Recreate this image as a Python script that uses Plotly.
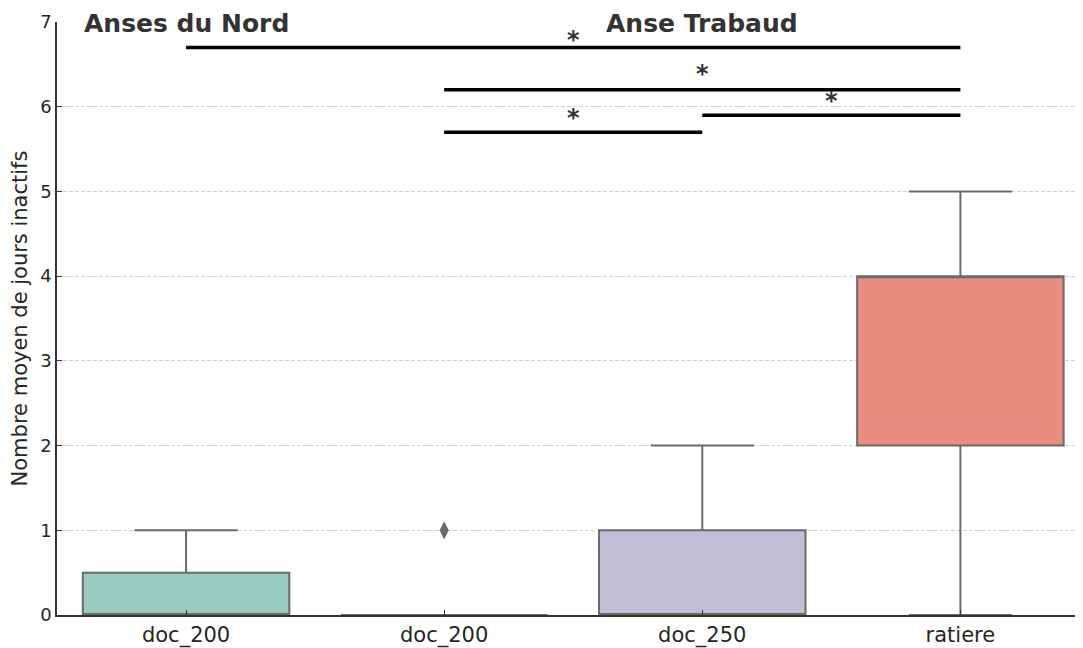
import plotly.graph_objects as go

# ---- data ----
positions = [0, 1, 2, 3]
tick_labels = ["doc_200", "doc_200", "doc_250", "ratiere"]
q1 = [0, 0, 0, 2]
median = [0, 0, 0, 4]
q3 = [0.5, 0, 1, 4]
lower_fence = [0, 0, 0, 0]
upper_fence = [1, 0, 2, 5]
box_colors = ["#99cbc1", "#f2f0b8", "#c1bed6", "#e98d81"]

outlier_x = [1]
outlier_y = [1]

sig_x0 = [0, 1, 2, 1]
sig_x1 = [3, 3, 3, 2]
sig_y = [6.7, 6.2, 5.9, 5.7]
star_x = [1.5, 2.0, 2.5, 1.5]
star_y = [6.85, 6.45, 6.13, 5.93]
star_text = ["*", "*", "*", "*"]

group_titles = ["Anses du Nord", "Anse Trabaud"]
group_x = [0, 2]
group_y = [7, 7]

y_title = "Nombre moyen de jours inactifs"

# ---- figure ----
fig = go.Figure()
edge = "#6a6a6a"
for i in range(len(positions)):
    fig.add_trace(go.Box(
        x=[positions[i]], q1=[q1[i]], median=[median[i]], q3=[q3[i]],
        lowerfence=[lower_fence[i]], upperfence=[upper_fence[i]],
        width=0.8, whiskerwidth=0.5, fillcolor=box_colors[i],
        line=dict(color=edge, width=2), boxpoints=False, showlegend=False,
        hoverinfo="skip",
    ))

fig.add_trace(go.Scatter(
    x=outlier_x, y=outlier_y, mode="markers",
    marker=dict(symbol="diamond-tall", size=13, color=edge),
    showlegend=False, hoverinfo="skip",
))

for x0, x1, y in zip(sig_x0, sig_x1, sig_y):
    fig.add_trace(go.Scatter(
        x=[x0, x1], y=[y, y], mode="lines",
        line=dict(color="black", width=3.5), showlegend=False, hoverinfo="skip",
    ))

annotations = []
for x, y, t in zip(star_x, star_y, star_text):
    annotations.append(dict(
        x=x, y=y, xref="x", yref="y", text="<b>" + t + "</b>", showarrow=False,
        font=dict(family="DejaVu Sans", size=24, color="#333333"),
        yanchor="middle", xanchor="center", yshift=-5,
    ))
for x, y, t in zip(group_x, group_y, group_titles):
    annotations.append(dict(
        x=x, y=y, xref="x", yref="y", text="<b>" + t + "</b>", showarrow=False,
        font=dict(family="DejaVu Sans", size=25, color="#333333"),
        yanchor="middle", xanchor="center", yshift=-1,
    ))

fig.update_layout(
    width=1075, height=640,
    margin=dict(l=49, r=0, t=14, b=33),
    paper_bgcolor="white", plot_bgcolor="white",
    font=dict(family="DejaVu Sans", color="#262626"),
    annotations=annotations,
    xaxis=dict(
        range=[-0.5, 3.475], tickmode="array", tickvals=positions, ticktext=tick_labels,
        tickfont=dict(size=21, color="#262626"), showgrid=False, zeroline=False,
        showline=True, linecolor="#333333", linewidth=1.5,
        ticks="inside", ticklen=5, tickcolor="#333333", tickwidth=1,
        automargin=False,
    ),
    yaxis=dict(
        range=[0, 7], tickmode="array", tickvals=[0, 1, 2, 3, 4, 5, 6, 7],
        tickfont=dict(size=18, color="#262626"),
        showgrid=True, gridcolor="#cfcfcf", griddash="4px,2px", gridwidth=1,
        zeroline=False, showline=True, linecolor="#333333", linewidth=1.5,
        ticks="inside", ticklen=5, tickcolor="#333333", tickwidth=1,
        title=dict(text=y_title, font=dict(size=21, color="#262626"), standoff=8),
        automargin=False,
    ),
)

fig.write_html("out.html")
